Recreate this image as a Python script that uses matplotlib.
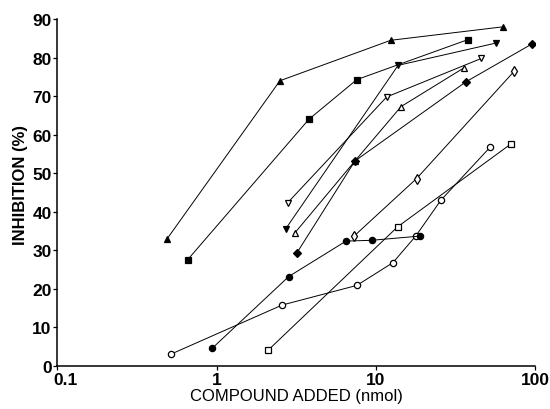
from matplotlib import pyplot as plt
from matplotlib.transforms import ScaledTranslation


# compound added (nmol) and inhibition (%)
tri_up_filled_x = [0.49, 2.5, 12.4, 63]
tri_up_filled_y = [33, 74, 84.5, 88]

square_filled_x = [0.66, 3.8, 7.6, 38]
square_filled_y = [27.6, 64, 74.3, 84.7]

tri_down_filled_x = [2.72, 13.8, 57]
tri_down_filled_y = [35.6, 78, 83.8]

tri_down_open_x = [2.79, 11.7, 46]
tri_down_open_y = [42.3, 69.8, 79.8]

tri_up_open_x = [3.1, 7.4, 14.4, 35.9]
tri_up_open_y = [34.5, 53.2, 67.3, 77.4]

diamond_filled_x = [3.18, 7.4, 36.7, 95]
diamond_filled_y = [29.2, 53.2, 73.7, 83.5]

circle_open_x = [0.52, 2.58, 7.6, 12.8, 17.8, 25.6, 52]
circle_open_y = [3.1, 15.8, 20.9, 26.8, 33.7, 43, 56.7]

diamond_open_x = [7.3, 18, 74]
diamond_open_y = [33.7, 48.6, 76.5]

circle_filled_x = [0.94, 2.84, 6.5, 9.4, 18.9]
circle_filled_y = [4.6, 23.2, 32.4, 32.6, 33.7]

square_open_x = [2.11, 13.7, 70.4]
square_open_y = [4.1, 36.1, 57.6]

x_ticks = [0.1, 1, 10, 100]
x_tick_labels = ['0.1', '1', '10', '100']
y_ticks = [0, 10, 20, 30, 40, 50, 60, 70, 80, 90]

series = [
    (tri_up_filled_x, tri_up_filled_y, '^', 'black'),
    (square_filled_x, square_filled_y, 's', 'black'),
    (tri_down_filled_x, tri_down_filled_y, 'v', 'black'),
    (tri_down_open_x, tri_down_open_y, 'v', 'white'),
    (tri_up_open_x, tri_up_open_y, '^', 'white'),
    (diamond_filled_x, diamond_filled_y, 'D', 'black'),
    (circle_open_x, circle_open_y, 'o', 'white'),
    (diamond_open_x, diamond_open_y, 'd', 'white'),
    (circle_filled_x, circle_filled_y, 'o', 'black'),
    (square_open_x, square_open_y, 's', 'white'),
]


def main():
    plt.rcParams['font.family'] = ['Liberation Sans', 'DejaVu Sans']

    fig = plt.figure(figsize=(5.5, 4.1), dpi=100)
    ax = fig.add_axes([0.104, 0.105, 0.869, 0.846])

    for xs, ys, marker, face in series:
        size = {'D': 3.8, 'd': 5.0}.get(marker, 4.5)
        ax.plot(
            xs, ys,
            color='black',
            linewidth=0.7,
            marker=marker,
            markersize=size,
            markerfacecolor=face,
            markeredgecolor='black',
            markeredgewidth=0.9,
        )

    ax.set_xscale('log')
    ax.set_xlim(0.1, 100)
    ax.set_ylim(0, 90)
    ax.set_xticks(x_ticks)
    ax.set_xticklabels(x_tick_labels)
    ax.set_yticks(y_ticks)
    ax.minorticks_off()

    ax.spines['top'].set_visible(False)
    ax.spines['right'].set_visible(False)
    ax.spines['left'].set_linewidth(1.1)
    ax.spines['bottom'].set_linewidth(1.1)
    ax.tick_params(axis='both', direction='out', length=3, width=0.9,
                   labelsize=12.5, pad=1)

    for label in ax.get_xticklabels() + ax.get_yticklabels():
        label.set_fontweight('bold')

    # the 0.1 label sits a little to the right of the axis corner
    first = ax.get_xticklabels()[0]
    first.set_transform(first.get_transform() +
                        ScaledTranslation(0.08, 0, fig.dpi_scale_trans))

    ax.set_xlabel('COMPOUND ADDED (nmol)', fontsize=12, labelpad=1)
    ax.set_ylabel('INHIBITION (%)', fontsize=12, fontweight='bold')
    ax.yaxis.set_label_coords(-0.062, 0.525)

    fig.savefig('out.png', dpi=100)
    plt.close(fig)


if __name__ == '__main__':
    main()
